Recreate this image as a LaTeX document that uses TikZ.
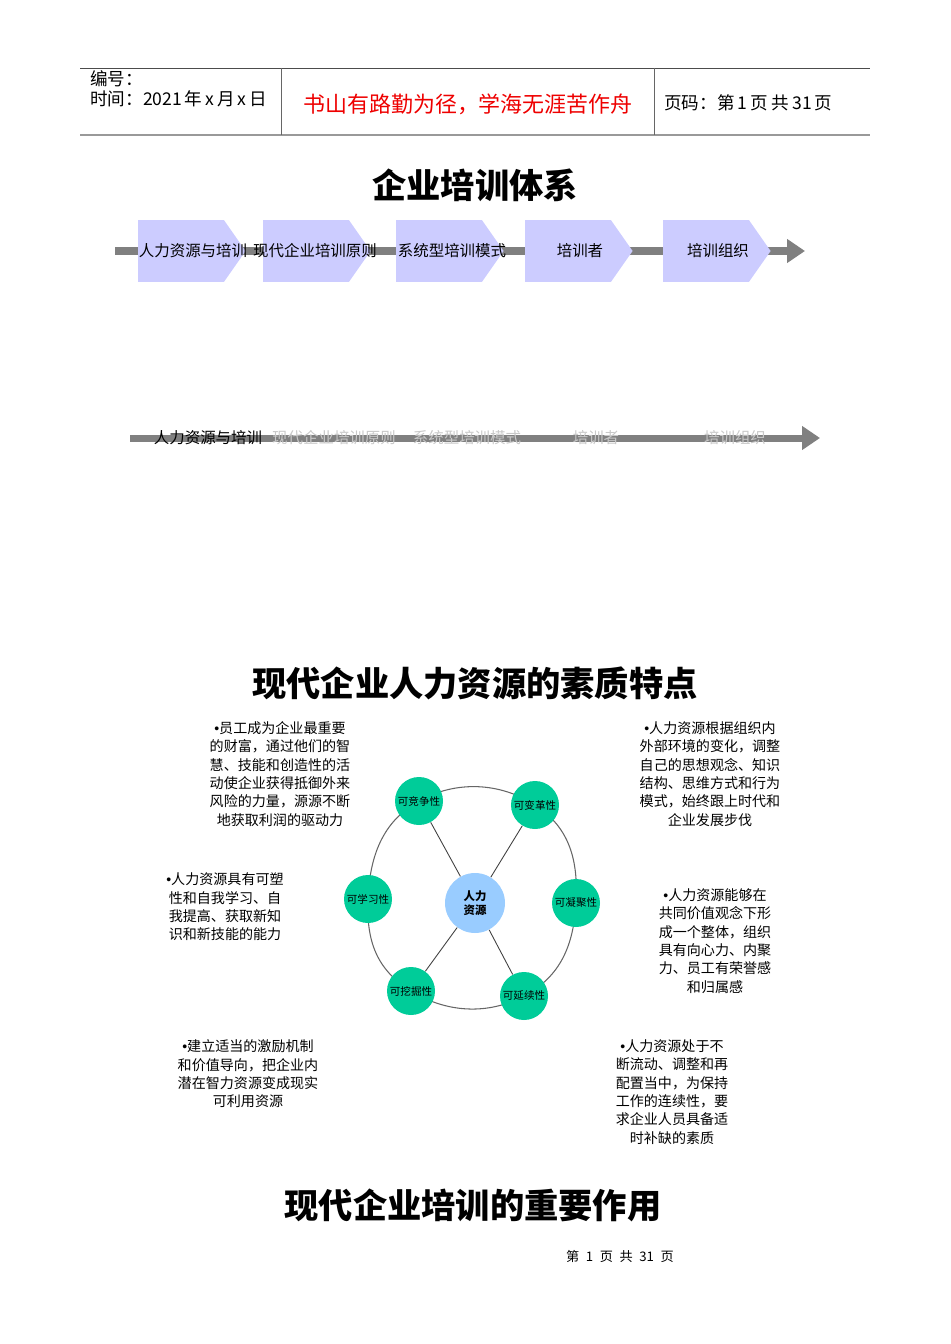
\documentclass[tikz,border=0pt]{standalone}
\usepackage{fontspec}
\setmainfont{Noto Sans CJK SC}
\newfontfamily\latinfont{Liberation Sans}
\usepackage{tikz}
\usetikzlibrary{arrows.meta, positioning, shapes.symbols}
\usepackage{xcolor}
\definecolor{vert}{RGB}{0,204,153}
\definecolor{bleuclair}{RGB}{153,204,255}
\definecolor{mauve}{RGB}{204,204,255}
\definecolor{gris}{RGB}{128,128,128}
\definecolor{grispale}{RGB}{200,200,200}
\definecolor{rouge}{RGB}{238,0,0}
\newcommand{\pucette}{{\latinfont •}}
\pgfdeclarelayer{fond}
\pgfsetlayers{fond,main}

\begin{document}
\begin{tikzpicture}[x=0.02cm, y=-0.02cm,
	chevron/.style={signal, signal to=east, signal pointer angle=110, fill=mauve,
		minimum width=2.15cm, minimum height=1.24cm, inner sep=0pt},
	txtchev/.style={font=\fontsize{8.8}{10}\selectfont, inner sep=0pt},
	txtpale/.style={font=\fontsize{8.8}{10}\selectfont, inner sep=0pt, text=grispale},
	barre/.style={gris, line width=0.16cm, -{Triangle[length=0.36cm, width=0.46cm]}},
	titre/.style={font=\fontsize{19.5}{22}\selectfont\bfseries, inner sep=0pt},
	qualite/.style={circle, fill=vert, minimum size=0.96cm, inner sep=0pt,
		font=\fontsize{6}{7}\selectfont},
	bloc/.style={align=center, inner sep=0pt, font=\fontsize{8}{10.4}\selectfont},
	entete/.style={font=\fontsize{10}{12}\selectfont, inner sep=0pt, anchor=west}]
	\useasboundingbox (0,0) rectangle (950,1344);
	
	% en-tete
	\draw[black!70, line width=0.5pt] (80,68) -- (870,68);
	\draw[black!40, line width=1.2pt] (80,135) -- (870,135);
	\draw[black!60, line width=0.5pt] (281,68) -- (281,135);
	\draw[black!60, line width=0.5pt] (654,68) -- (654,135);
	\node[entete] (num) at (90,79) {编号：};
	\node[entete] (date) at (90,99) {时间：2021\,年\,x\,月\,x\,日};
	\node[font=\fontsize{12.5}{14}\selectfont, text=rouge, inner sep=0pt] (devise) at (468,104)
	{书山有路勤为径，学海无涯苦作舟};
	\node[entete] (page) at (664,103) {页码：第\,1\,页\ 共\,31\,页};
	
	% titre 1 et chevrons
	\node[titre] (t1) at (475,185) {企业培训体系};
	\coordinate (d1) at (115,251);
	\coordinate (f1) at (805,251);
	\draw[barre] (d1) -- (f1);
	\node[chevron] (c1) at (181,251) {};
	\node[chevron] (c2) at (306,251) {};
	\node[chevron] (c3) at (439,251) {};
	\node[chevron] (c4) at (568,251) {};
	\node[chevron] (c5) at (706,251) {};
	\node[txtchev] (e1) at ([xshift=0.24cm]c1.center) {人力资源与培训};
	\node[txtchev] (e2) at ([xshift=0.18cm]c2.center) {现代企业培训原则};
	\node[txtchev] (e3) at ([xshift=0.26cm]c3.center) {系统型培训模式};
	\node[txtchev] (e4) at ([xshift=0.24cm]c4.center) {培训者};
	\node[txtchev] (e5) at ([xshift=0.24cm]c5.center) {培训组织};
	
	% deuxieme fleche : seul le premier terme est actif
	\coordinate (d2) at (130,438);
	\coordinate (f2) at (820,438);
	\draw[barre, line width=0.14cm] (d2) -- (f2);
	\node[txtchev] (r1) at (208,438) {人力资源与培训};
	\node[txtpale] (r2) at (334,438) {现代企业培训原则};
	\node[txtpale] (r3) at (467,438) {系统型培训模式};
	\node[txtpale] (r4) at (596,438) {培训者};
	\node[txtpale] (r5) at (735,438) {培训组织};
	
	% titre 2 : anneau des qualites
	\node[titre] (t2) at (475,683) {现代企业人力资源的素质特点};
	\node[circle, fill=bleuclair, minimum size=1.2cm, inner sep=0pt,
	font=\fontsize{6.5}{8}\selectfont\bfseries, align=center] (rh) at (475,903) {人力\\资源};
	\node[qualite] (g1) at (419,801) {可竞争性};
	\node[qualite] (g2) at (535,805) {可变革性};
	\node[qualite] (g3) at (576,903) {可凝聚性};
	\node[qualite] (g4) at (524,996) {可延续性};
	\node[qualite] (g5) at (411,991) {可挖掘性};
	\node[qualite] (g6) at (368,899) {可学习性};
	\begin{pgfonlayer}{fond}
		\draw[black!60, line width=0.6pt] plot[smooth cycle, tension=0.8]
		coordinates {(g1.center) (g2.center) (g3.center) (g4.center) (g5.center) (g6.center)};
	\end{pgfonlayer}
	\foreach \g in {g1,g2,g4,g5} {
		\draw[black!75, line width=0.5pt] (rh) -- (\g);
	}
	
	% textes autour de l'anneau
	\node[bloc] (b1) at (280,774) {\pucette 员工成为企业最重要\\的财富，通过他们的智\\慧、技能和创造性的活\\动使企业获得抵御外来\\风险的力量，源源不断\\地获取利润的驱动力};
	\node[bloc] (b2) at (710,774) {\pucette 人力资源根据组织内\\外部环境的变化，调整\\自己的思想观念、知识\\结构、思维方式和行为\\模式，始终跟上时代和\\企业发展步伐};
	\node[bloc] (b3) at (225,907) {\pucette 人力资源具有可塑\\性和自我学习、自\\我提高、获取新知\\识和新技能的能力};
	\node[bloc] (b4) at (715,941) {\pucette 人力资源能够在\\共同价值观念下形\\成一个整体，组织\\具有向心力、内聚\\力、员工有荣誉感\\和归属感};
	\node[bloc] (b5) at (248,1074) {\pucette 建立适当的激励机制\\和价值导向，把企业内\\潜在智力资源变成现实\\可利用资源};
	\node[bloc] (b6) at (672,1092) {\pucette 人力资源处于不\\断流动、调整和再\\配置当中，为保持\\工作的连续性，要\\求企业人员具备适\\时补缺的素质};
	
	% titre 3 et pied de page
	\node[titre] (t3) at (473,1205) {现代企业培训的重要作用};
	\node[font=\fontsize{7.5}{9}\selectfont, inner sep=0pt] (pied) at (620,1256)
	{第\hspace{0.5em}1\hspace{0.5em}页\hspace{0.5em}共\hspace{0.5em}31\hspace{0.5em}页};
\end{tikzpicture}
\end{document}
